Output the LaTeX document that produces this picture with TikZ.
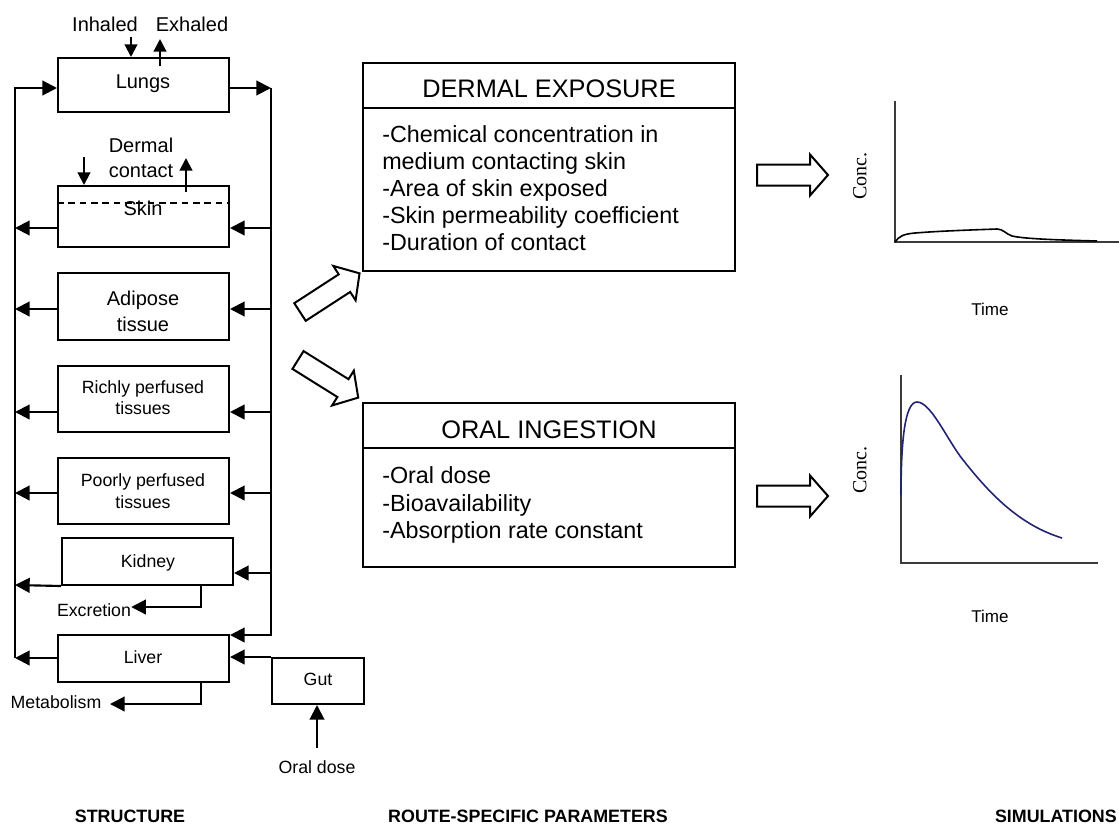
\documentclass[tikz,border=0pt]{standalone}
\usepackage{fontspec}
\setmainfont{Liberation Sans}
\newfontfamily\concfont{Liberation Serif}
\usetikzlibrary{arrows.meta,fit}
\definecolor{curveblue}{RGB}{35,35,115}
\definecolor{axisgray}{RGB}{60,60,60}
\begin{document}
\begin{tikzpicture}[x=0.75pt,y=-0.75pt,
  bx/.style={draw, line width=1.5pt, inner sep=0pt},
  arr/.style={line width=1.6pt, -{Triangle[length=11pt,width=11pt]}},
  sarr/.style={line width=1.6pt, -{Triangle[length=9.5pt,width=9.5pt]}},
  tA/.style={inner sep=0pt, anchor=base, font=\fontsize{15pt}{18pt}\selectfont},
  tB/.style={inner sep=0pt, anchor=base, font=\fontsize{13.3pt}{16pt}\selectfont},
  body/.style={inner sep=0pt, anchor=base west, font=\fontsize{17.5pt}{21pt}\selectfont},
  ttl/.style={inner sep=0pt, anchor=base, font=\fontsize{19pt}{23pt}\selectfont},
  foot/.style={inner sep=0pt, anchor=base, font=\bfseries\fontsize{13.4pt}{16pt}\selectfont},
  tm/.style={inner sep=0pt, anchor=base, font=\fontsize{12.8pt}{15pt}\selectfont},
  conc/.style={inner sep=0pt, rotate=90, font=\concfont\fontsize{15pt}{18pt}\selectfont},
  blk/.style={draw, line width=1.5pt, fill=white, line join=miter},
  axisline/.style={line width=1.1pt, draw=axisgray},
  dsh/.style={line width=1pt, dash pattern=on 5pt off 3.5pt}
]
\useasboundingbox (0,0) rectangle (1119,832);

% ---------------- STRUCTURE ----------------
\node[bx, fit={(58,58)(229,112)}] (lungs) {};
\node[bx, fit={(58,186)(229,247)}] (skin) {};
\node[bx, fit={(58,273)(229,340)}] (adipose) {};
\node[bx, fit={(58,366)(229,432)}] (richly) {};
\node[bx, fit={(58,458)(229,524)}] (poorly) {};
\node[bx, fit={(62,538)(233,585)}] (kidney) {};
\node[bx, fit={(58,635)(229,682)}] (liver) {};
\node[bx, fit={(272,658)(364,704)}] (gut) {};

\coordinate (dsk) at (143,203);
\draw[dsh] (skin.west |- dsk) -- (skin.east |- dsk);

\node[tA] (tlungs) at (143,88) {Lungs};
\node[tA] (inh) at (105,31) {Inhaled};
\node[tA] (exh) at (192,31) {Exhaled};
\node[tA] (derm1) at (141,152) {Dermal};
\node[tA] (derm2) at (141,177) {contact};
\node[tA] (tskin) at (143,215) {Skin};
\node[tA] (tad1) at (143,305) {Adipose};
\node[tA] (tad2) at (143,331) {tissue};
\node[tB] (tri1) at (143,393) {Richly perfused};
\node[tB] (tri2) at (143,414) {tissues};
\node[tB] (tpo1) at (143,486) {Poorly perfused};
\node[tB] (tpo2) at (143,508) {tissues};
\node[tB] (tkid) at (148,567) {Kidney};
\node[tB] (tliv) at (143,663) {Liver};
\node[tB] (excr) at (94,616) {Excretion};
\node[tB] (metab) at (56,708) {Metabolism};
\node[tB] (tgut) at (318,685) {Gut};
\node[tB] (oraldose) at (317,773) {Oral dose};

% inhaled / exhaled / dermal contact
\coordinate (inA) at (131,37);
\coordinate (exA) at (160,66);
\coordinate (exB) at (160,39);
\draw[sarr] (inA) -- (inA |- lungs.north);
\draw[sarr] (exA) -- (exB);
\coordinate (dcA) at (84,157);
\coordinate (dcB) at (186,192);
\coordinate (dcC) at (186,158);
\draw[sarr] (dcA) -- (dcA |- skin.north);
\draw[sarr] (dcB) -- (dcC);

% buses
\coordinate (LT) at (15,88);
\coordinate (LB) at (15,658);
\coordinate (RT) at (271,88);
\coordinate (RB) at (271,635);
\draw[arr] (LB) -- (LT) -- (LT -| lungs.west);
\draw[arr] (RT -| lungs.east) -- (RT);
\draw[arr] (RT) -- (RB) -- (RB -| liver.east);

\coordinate (Rs) at (271,228); \coordinate (Ls) at (15,228);
\coordinate (Ra) at (271,309); \coordinate (La) at (15,309);
\coordinate (Rr) at (271,412); \coordinate (Lr) at (15,412);
\coordinate (Rp) at (271,493); \coordinate (Lp) at (15,493);
\coordinate (Rk) at (271,573); \coordinate (Lk) at (15,585);
\draw[arr] (Rs) -- (Rs -| skin.east);
\draw[arr] (Ls -| skin.west) -- (Ls);
\draw[arr] (Ra) -- (Ra -| adipose.east);
\draw[arr] (La -| adipose.west) -- (La);
\draw[arr] (Rr) -- (Rr -| richly.east);
\draw[arr] (Lr -| richly.west) -- (Lr);
\draw[arr] (Rp) -- (Rp -| poorly.east);
\draw[arr] (Lp -| poorly.west) -- (Lp);
\draw[arr] (Rk) -- (Rk -| kidney.east);
\draw[arr] (kidney.south west) -- (Lk);
\draw[arr] (liver.west |- LB) -- (LB);

% excretion, metabolism
\coordinate (ex2) at (201,607);
\draw[arr] (kidney.south -| ex2) -- (ex2) -- (excr.east |- ex2);
\coordinate (mt) at (201,704);
\coordinate (mtend) at (110,704);
\draw[arr] (liver.south -| mt) -- (mt) -- (mtend);

% gut
\draw[arr] (gut.north west) -- (liver.east |- gut.north);
\coordinate (od) at (317,748);
\draw[arr] (od) -- (od |- gut.south);

% ---------------- ROUTE-SPECIFIC PARAMETERS ----------------
\node[bx, fit={(363,63)(735,271)}] (dermal) {};
\coordinate (dd) at (549,108);
\draw[line width=1.5pt] (dermal.west |- dd) -- (dermal.east |- dd);
\node[ttl] (dtitle) at (549,97) {DERMAL EXPOSURE};
\node[body] (d1) at (382,142) {-Chemical concentration in};
\node[body] (d2) at (382,169) {medium contacting skin};
\node[body] (d3) at (382,196) {-Area of skin exposed};
\node[body] (d4) at (382,223) {-Skin permeability coefficient};
\node[body] (d5) at (382,250) {-Duration of contact};

\node[bx, fit={(363,403)(735,567)}] (oral) {};
\coordinate (od2) at (549,448);
\draw[line width=1.5pt] (oral.west |- od2) -- (oral.east |- od2);
\node[ttl] (otitle) at (549,438) {ORAL INGESTION};
\node[body] (o1) at (382,483) {-Oral dose};
\node[body] (o2) at (382,511) {-Bioavailability};
\node[body] (o3) at (382,538) {-Absorption rate constant};

% block arrows
\newcommand{\blockarrow}[3]{%
  \draw[blk, shift={(#1,#2)}, rotate=#3]
    (0,-10.5) -- (53,-10.5) -- (53,-20.5) -- (71,0) -- (53,20.5) -- (53,10.5) -- (0,10.5) -- cycle;}
\blockarrow{300}{312}{33}
\blockarrow{298}{360}{-32}
\blockarrow{757}{175}{0}
\blockarrow{757}{496}{0}

% ---------------- SIMULATIONS ----------------
\draw[axisline] (895,101) -- (895,242) -- (1119,242);
\draw[line width=1.2pt] (895,242) .. controls (899,236) and (904,234) .. (915,233)
  .. controls (940,231) and (970,230) .. (997,229)
  .. controls (1003,229) and (1006,234) .. (1012,236)
  .. controls (1025,239) and (1060,240) .. (1097,241);
\node[conc] (conc1) at (860,176) {Conc.};
\node[tm] (time1) at (990,315) {Time};

\draw[axisline] (901,375) -- (901,563) -- (1098,563);
\draw[line width=1.2pt, draw=curveblue] (901,495) .. controls (901,440) and (905,402) .. (917,402)
  .. controls (930,402) and (945,435) .. (960,456)
  .. controls (990,495) and (1020,525) .. (1062,538);
\node[conc] (conc2) at (860,470) {Conc.};
\node[tm] (time2) at (990,622) {Time};

% ---------------- FOOTER ----------------
\node[foot] (f1) at (130,822) {STRUCTURE};
\node[foot] (f2) at (528,822) {ROUTE-SPECIFIC PARAMETERS};
\node[foot, anchor=base east] (f3) at (1117,822) {SIMULATIONS};
\end{tikzpicture}
\end{document}
